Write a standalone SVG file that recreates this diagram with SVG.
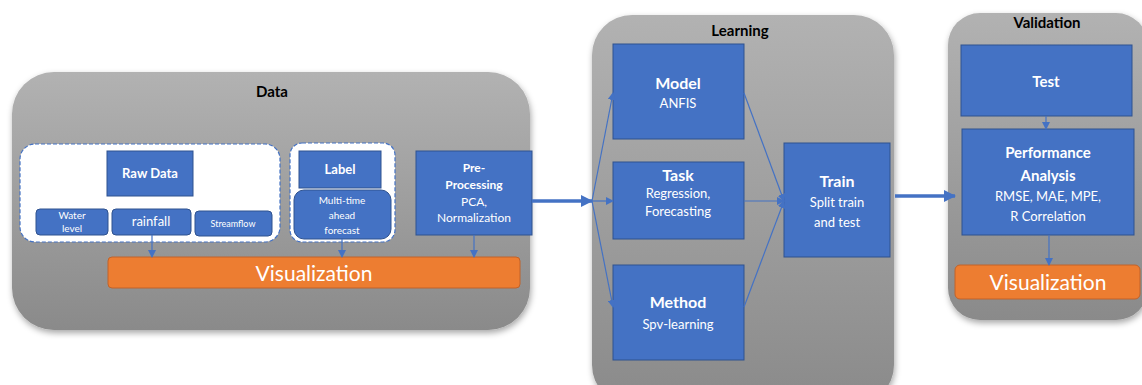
<svg xmlns="http://www.w3.org/2000/svg" width="1142" height="385" viewBox="0 0 1142 385">
<defs>
<linearGradient id="gp" x1="0" y1="0" x2="0" y2="1">
<stop offset="0" stop-color="#b2b2b2"/>
<stop offset="1" stop-color="#8a8a8a"/>
</linearGradient>
<filter id="sh" x="-10%" y="-10%" width="120%" height="125%">
<feDropShadow dx="1" dy="3" stdDeviation="3" flood-color="#000" flood-opacity="0.35"/>
</filter>
<marker id="ah" markerWidth="8" markerHeight="8" refX="7" refY="4" orient="auto" markerUnits="userSpaceOnUse">
<path d="M0,0 L8,4 L0,8 z" fill="#4472c4"/>
</marker>
<marker id="ahb" markerWidth="12" markerHeight="12" refX="11" refY="6" orient="auto" markerUnits="userSpaceOnUse">
<path d="M0,0 L12,6 L0,12 z" fill="#4472c4"/>
</marker>
<style>
.panel{fill:url(#gp);filter:url(#sh)}
.blue{fill:#4472c4;stroke:#2f528f;stroke-width:1}
.orange{fill:#ed7d31;stroke:#c0622a;stroke-width:1}
.dash{fill:#fff;stroke:#4472c4;stroke-width:1.2;stroke-dasharray:4 2}
text{font-family:Lato,"Open Sans","Liberation Sans",sans-serif;text-anchor:middle}
.w{fill:#fff}
.b{font-weight:bold}
.title{fill:#000;font-weight:bold;font-size:15px}
.con{stroke:#4472c4;stroke-width:1.2;fill:none;marker-end:url(#ah)}
.big{stroke:#4472c4;stroke-width:3.5;fill:none;marker-end:url(#ahb)}
</style>
</defs>

<g id="panel-data">
<rect class="panel" x="12" y="72" width="518" height="258" rx="42"/>
<text class="title" x="272" y="97">Data</text>
</g>
<g id="panel-learning">
<rect class="panel" x="592" y="15" width="302" height="390" rx="40"/>
<text class="title" x="740" y="36">Learning</text>
</g>
<g id="panel-validation">
<rect class="panel" x="948" y="13" width="200" height="307" rx="32"/>
<text class="title" x="1047" y="28">Validation</text>
</g>

<g id="rawdata-group">
<rect class="dash" x="20" y="144" width="260" height="98" rx="15"/>
</g>
<g id="raw-data">
<rect class="blue" x="107" y="151" width="86" height="45"/>
<text class="w b" x="150" y="178" font-size="13">Raw Data</text>
</g>
<g id="water-level">
<rect class="blue" x="36" y="209" width="72" height="26" rx="4"/>
<text class="w" x="72" y="219" font-size="10">Water</text>
<text class="w" x="72" y="232" font-size="10">level</text>
</g>
<g id="rainfall">
<rect class="blue" x="112" y="209" width="79" height="26" rx="4"/>
<text class="w" x="151" y="226" font-size="13">rainfall</text>
</g>
<g id="streamflow">
<rect class="blue" x="195" y="211" width="77" height="25" rx="4"/>
<text class="w" x="233" y="227" font-size="9">Streamflow</text>
</g>

<g id="label-group">
<rect class="dash" x="290" y="143" width="105" height="99" rx="12"/>
</g>
<g id="label">
<rect class="blue" x="299" y="151" width="82" height="37"/>
<text class="w b" x="340" y="174" font-size="13">Label</text>
</g>
<g id="multi-time">
<rect class="blue" x="294" y="190" width="97" height="49" rx="10"/>
<text class="w" x="342" y="204" font-size="10">Multi-time</text>
<text class="w" x="342" y="219" font-size="10">ahead</text>
<text class="w" x="342" y="234" font-size="10">forecast</text>
</g>

<g id="preprocessing">
<rect class="blue" x="416" y="151" width="116" height="84"/>
<text class="w b" x="474" y="172" font-size="12">Pre-</text>
<text class="w b" x="474" y="189" font-size="12">Processing</text>
<text class="w" x="474" y="206" font-size="12">PCA,</text>
<text class="w" x="474" y="222" font-size="12">Normalization</text>
</g>

<g id="visualization-data">
<rect class="orange" x="108" y="257" width="412" height="31" rx="4"/>
<text class="w" x="314" y="281" font-size="21">Visualization</text>
</g>

<g id="model">
<rect class="blue" x="613" y="44" width="131" height="95"/>
<text class="w b" x="678" y="89" font-size="16">Model</text>
<text class="w" x="678" y="108" font-size="13">ANFIS</text>
</g>
<g id="task">
<rect class="blue" x="613" y="162" width="131" height="77"/>
<text class="w b" x="678" y="181" font-size="16">Task</text>
<text class="w" x="678" y="198" font-size="13">Regression,</text>
<text class="w" x="678" y="216" font-size="13">Forecasting</text>
</g>
<g id="method">
<rect class="blue" x="613" y="265" width="131" height="95"/>
<text class="w b" x="678" y="308" font-size="16">Method</text>
<text class="w" x="678" y="329" font-size="13">Spv-learning</text>
</g>
<g id="train">
<rect class="blue" x="784" y="143" width="106" height="114"/>
<text class="w b" x="837" y="187" font-size="16">Train</text>
<text class="w" x="837" y="207" font-size="13">Split train</text>
<text class="w" x="837" y="227" font-size="13">and test</text>
</g>

<g id="test">
<rect class="blue" x="961" y="45" width="171" height="71"/>
<text class="w b" x="1046" y="87" font-size="15">Test</text>
</g>
<g id="performance">
<rect class="blue" x="962" y="129" width="172" height="106"/>
<text class="w b" x="1048" y="158" font-size="15">Performance</text>
<text class="w b" x="1048" y="181" font-size="15">Analysis</text>
<text class="w" x="1048" y="201" font-size="13">RMSE, MAE, MPE,</text>
<text class="w" x="1048" y="221" font-size="13">R Correlation</text>
</g>
<g id="visualization-validation">
<rect class="orange" x="955" y="265" width="185" height="34" rx="5"/>
<text class="w" x="1048" y="290" font-size="21">Visualization</text>
</g>

<g id="connectors">
<line class="con" x1="152" y1="235" x2="152" y2="257"/>
<line class="con" x1="342" y1="239" x2="342" y2="257"/>
<line class="con" x1="474" y1="235" x2="474" y2="257"/>
<line class="big" x1="532" y1="201" x2="592" y2="201"/>
<line class="con" x1="592" y1="201" x2="613" y2="93"/>
<line class="con" x1="592" y1="201" x2="613" y2="201"/>
<line class="con" x1="592" y1="201" x2="613" y2="307"/>
<line class="con" x1="744" y1="93" x2="784" y2="201"/>
<line class="con" x1="744" y1="201" x2="784" y2="201"/>
<line class="con" x1="744" y1="307" x2="784" y2="201"/>
<line class="big" x1="895" y1="196" x2="955" y2="196"/>
<line class="con" x1="1046" y1="116" x2="1046" y2="129"/>
<line class="con" x1="1049" y1="235" x2="1049" y2="265"/>
</g>
</svg>
